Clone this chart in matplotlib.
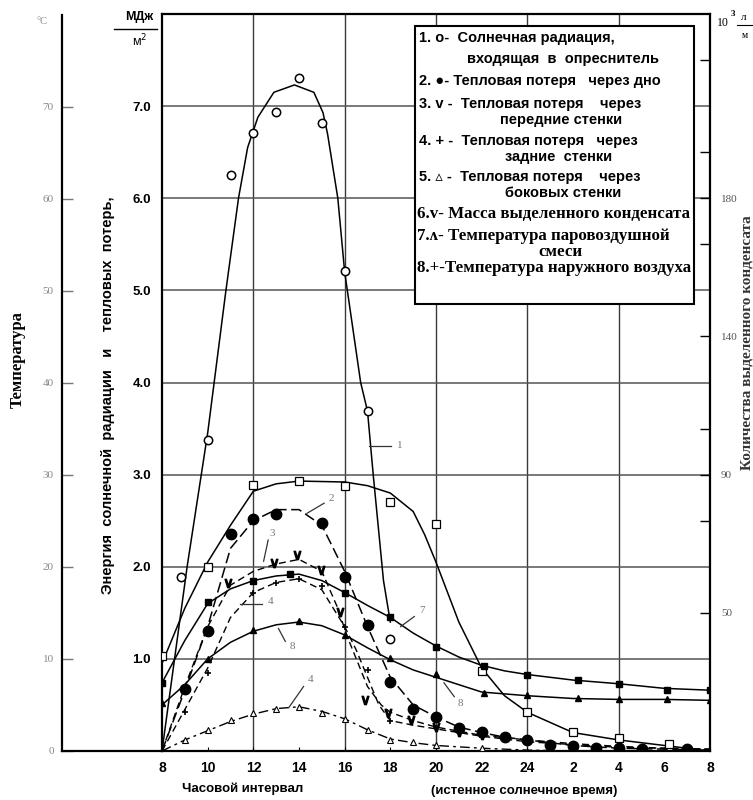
"""
Daily run of a solar still: solar energy, heat losses, condensate, temperatures.
Redrawn from a scanned figure.
"""

import matplotlib
matplotlib.use("Agg")
import matplotlib.pyplot as plt
from matplotlib.lines import Line2D
from matplotlib.patches import Rectangle

W, H = 753, 800

# hours are counted on from 8:00 (32 = 8:00 next morning)
x_ticks = [8, 10, 12, 14, 16, 18, 20, 22, 24, 26, 28, 30, 32]
x_tick_labels = ["8", "10", "12", "14", "16", "18", "20", "22", "24", "2", "4", "6", "8"]
grid_x = [12, 16, 20, 24, 28]
grid_y = [1, 2, 3, 4, 5, 6, 7]
e_ticks = [1, 2, 3, 4, 5, 6, 7]
e_tick_labels = ["1.0", "2.0", "3.0", "4.0", "5.0", "6.0", "7.0"]
t_ticks = [0, 10, 20, 30, 40, 50, 60, 70]
t_tick_labels = ["0", "10", "20", "30", "40", "50", "60", "70"]
r_ticks = [1.5, 2.5, 3.0, 3.5, 4.5, 5.5, 6.0, 6.5, 7.5]
r_tick_labels = ["50", "", "90", "", "140", "", "180", "", ""]

# 1 - solar radiation (open circles, solid)
c1_x = [8, 9.1, 10, 10.8, 11.35, 11.75, 12.2, 12.9, 13.8, 14.65, 15.05, 15.25, 15.7, 16.0, 16.7, 17.0, 17.25, 17.7, 18.0]
c1_y = [0, 2.0, 3.45, 5.0, 6.0, 6.55, 6.88, 7.15, 7.23, 7.15, 6.93, 6.7, 6.0, 5.2, 4.0, 3.69, 3.0, 1.85, 1.4]
c1_px = [8.85, 10, 11, 12, 13, 14, 15, 16, 17, 18]
c1_py = [1.89, 3.38, 6.25, 6.71, 6.94, 7.30, 6.82, 5.21, 3.69, 1.22]

# 2 - loss through the bottom (filled circles, dashed)
c2_x = [8, 9, 10, 11, 12, 13, 14, 15, 16, 17, 18, 19, 20, 21, 22, 23, 24, 26, 28, 30, 32]
c2_y = [0, 0.66, 1.35, 2.2, 2.5, 2.62, 2.62, 2.45, 1.95, 1.35, 0.8, 0.5, 0.37, 0.26, 0.2, 0.15, 0.12, 0.06, 0.03, 0.02, 0.01]
c2_px = [9, 10, 11, 12, 13, 15, 16, 17, 18, 19, 20, 21, 22, 23, 24, 25, 26, 27, 28, 29, 31]
c2_py = [0.67, 1.30, 2.36, 2.52, 2.57, 2.48, 1.89, 1.37, 0.75, 0.46, 0.37, 0.25, 0.21, 0.15, 0.12, 0.07, 0.05, 0.03, 0.03, 0.02, 0.02]

# 3 - loss through the front walls (v, dashed)
c3_x = [8, 9, 10, 11, 12, 13, 14, 15, 15.7, 16.1, 17, 17.6, 18, 19, 20, 22, 24, 26, 28, 30, 32]
c3_y = [0, 0.7, 1.35, 1.8, 1.95, 2.03, 2.08, 1.95, 1.55, 1.25, 0.7, 0.5, 0.42, 0.33, 0.26, 0.17, 0.12, 0.08, 0.05, 0.03, 0.02]
c3_px = [10.9, 12.9, 13.9, 14.95, 15.8, 16.9, 17.9, 18.9, 20, 21, 22]
c3_py = [1.82, 2.04, 2.13, 1.97, 1.51, 0.55, 0.41, 0.34, 0.26, 0.21, 0.17]

# 4 - loss through the back walls (+, dashed)
c4_x = [8, 9, 10, 11, 12, 13, 14, 15, 16, 16.5, 17, 17.5, 18, 19, 20, 22, 24, 28, 32]
c4_y = [0, 0.45, 0.9, 1.45, 1.72, 1.83, 1.87, 1.75, 1.35, 1.1, 0.8, 0.5, 0.33, 0.28, 0.24, 0.16, 0.1, 0.04, 0.02]
c4_px = [9, 10, 12, 13, 14, 15, 16, 17, 18, 20, 22, 24]
c4_py = [0.42, 0.85, 1.71, 1.82, 1.87, 1.79, 1.35, 0.88, 0.33, 0.25, 0.15, 0.1]

# 5 - loss through the side walls (open triangles, dashed)
c5_x = [8, 9, 10, 11, 12, 13, 14, 15, 16, 17, 18, 19, 20, 22, 24, 26]
c5_y = [0, 0.12, 0.22, 0.32, 0.4, 0.46, 0.48, 0.43, 0.35, 0.23, 0.13, 0.09, 0.06, 0.03, 0.01, 0.0]
c5_px = [9, 10, 11, 12, 13, 14, 15, 16, 17, 18, 19, 20, 22]
c5_py = [0.12, 0.23, 0.34, 0.41, 0.46, 0.48, 0.41, 0.35, 0.23, 0.12, 0.10, 0.07, 0.03]

# 6 - condensate mass (open squares, solid)
c6_x = [8, 9, 10, 11, 12, 13, 14, 16, 17, 18, 19, 19.5, 20, 21, 22, 23, 24, 26, 28, 30, 32]
c6_y = [0.95, 1.55, 2.05, 2.45, 2.82, 2.9, 2.93, 2.92, 2.88, 2.8, 2.6, 2.35, 2.05, 1.4, 0.9, 0.6, 0.42, 0.2, 0.12, 0.06, 0.0]
c6_px = [8, 10, 12, 14, 16, 18, 20, 22, 24, 26, 28, 30.2]
c6_py = [1.03, 2.0, 2.89, 2.93, 2.88, 2.70, 2.46, 0.87, 0.42, 0.21, 0.145, 0.08]

# 7 - vapour-air mixture temperature (filled squares, solid)
c7_x = [8, 9, 10, 11, 12, 13, 14, 15, 16, 17, 18, 19, 20, 21, 22, 23, 24, 26, 28, 30, 32]
c7_y = [0.74, 1.2, 1.6, 1.76, 1.85, 1.9, 1.92, 1.85, 1.72, 1.58, 1.45, 1.28, 1.14, 1.02, 0.93, 0.87, 0.83, 0.77, 0.73, 0.68, 0.66]
c7_px = [8, 10, 12, 13.6, 16, 18, 20, 22.1, 24, 26.2, 28, 30.1, 32]
c7_py = [0.74, 1.62, 1.84, 1.92, 1.71, 1.45, 1.13, 0.92, 0.83, 0.77, 0.73, 0.66, 0.66]

# 8 - outside air temperature (filled triangles, solid)
c8_x = [8, 9, 10, 11, 12, 13, 14, 15, 16, 17, 18, 19, 20, 21, 22, 23, 24, 26, 28, 30, 32]
c8_y = [0.5, 0.72, 1.0, 1.18, 1.3, 1.37, 1.4, 1.36, 1.26, 1.12, 0.99, 0.88, 0.8, 0.72, 0.64, 0.62, 0.6, 0.57, 0.56, 0.56, 0.55]
c8_px = [8, 10, 12, 14, 16, 18, 20, 22.1, 24, 26.2, 28, 30.1, 32]
c8_py = [0.52, 1.0, 1.31, 1.41, 1.26, 1.01, 0.84, 0.63, 0.61, 0.57, 0.56, 0.56, 0.55]

# curve numbers: text position and leader line
curve_labels = ["1", "2", "3", "4", "8", "4", "7", "8"]
label_xy = [(18.3, 3.32), (15.3, 2.74), (12.7, 2.36), (12.65, 1.62), (13.6, 1.13), (14.4, 0.78), (19.25, 1.52), (20.95, 0.52)]
leader_from = [(17.05, 3.31), (14.35, 2.58), (12.45, 2.06), (11.4, 1.6), (13.1, 1.33), (13.55, 0.47), (18.45, 1.35), (20.35, 0.74)]
leader_to = [(18.05, 3.31), (15.1, 2.69), (12.65, 2.29), (12.4, 1.6), (13.4, 1.19), (14.2, 0.7), (19.05, 1.46), (20.8, 0.59)]

legend_rows = [
    ("1. о-  Солнечная радиация,", "sans", 38, 419),
    ("входящая  в  опреснитель", "sans", 59, 467),
    ("2. ●- Тепловая потеря   через дно", "sans", 81, 419),
    ("3. v -  Тепловая потеря    через", "sans", 104, 419),
    ("передние стенки", "sans", 120, 500),
    ("4. + -  Тепловая потеря   через", "sans", 141, 419),
    ("задние  стенки", "sans", 157, 505),
    ("5. ▵ -  Тепловая потеря    через", "sans", 177, 419),
    ("боковых стенки", "sans", 193, 505),
    ("6.v- Масса выделенного конденсата", "serif", 214, 417),
    ("7.ʌ- Температура паровоздушной", "serif", 236, 417),
    ("смеси", "serif", 252, 538),
    ("8.+-Температура наружного воздуха", "serif", 268, 417),
]


def fx(px):
    return px / W


def fy(py):
    return 1 - py / H


fig = plt.figure(figsize=(W / 100, H / 100), dpi=100)
fig.patch.set_facecolor("white")

ax = fig.add_axes([fx(162), fy(751), (710 - 162) / W, (751 - 14) / H])
ax.set_xlim(8, 32)
ax.set_ylim(0, 8)
for s in ax.spines.values():
    s.set_linewidth(1.6)

for gx in grid_x:
    ax.axvline(gx, color="#3a3a3a", lw=1.0, zorder=1)
for gy in grid_y:
    ax.axhline(gy, color="#555555", lw=1.1, zorder=1)

ax.set_xticks(x_ticks)
ax.set_xticklabels(x_tick_labels, fontfamily="Liberation Sans", fontweight="bold", fontsize=10)
ax.tick_params(axis="x", direction="in", length=3, pad=7)
ax.set_yticks(e_ticks)
ax.set_yticklabels(e_tick_labels, fontfamily="Liberation Sans", fontweight="bold", fontsize=9.5)
ax.tick_params(axis="y", length=0, pad=8)

solid = dict(color="black", lw=1.1, zorder=3)
ax.plot(c1_x, c1_y, **solid)
ax.plot(c6_x, c6_y, **solid)
ax.plot(c7_x, c7_y, **solid)
ax.plot(c8_x, c8_y, **solid)
ax.plot(c2_x, c2_y, color="black", lw=1.1, ls=(0, (7, 3)), zorder=3)
ax.plot(c3_x, c3_y, color="black", lw=1.0, ls=(0, (5, 3)), zorder=3)
ax.plot(c4_x, c4_y, color="black", lw=1.0, ls=(0, (5, 3)), zorder=3)
ax.plot(c5_x, c5_y, color="black", lw=1.0, ls=(0, (7, 3, 2, 3)), zorder=3)

mk = dict(ls="none", color="black", zorder=4)
ax.plot(c1_px, c1_py, marker="o", ms=6, mfc="white", mew=1.1, **mk)
ax.plot(c2_px, c2_py, marker="o", ms=7.5, mfc="black", **mk)
ax.plot(c3_px, c3_py, marker="$\\vee$", ms=6, **mk)
ax.plot(c4_px, c4_py, marker="+", ms=5, mew=1.2, **mk)
ax.plot(c5_px, c5_py, marker="^", ms=4, mfc="white", mew=0.8, **mk)
ax.plot(c6_px, c6_py, marker="s", ms=5.5, mfc="white", mew=0.9, **mk)
ax.plot(c7_px, c7_py, marker="s", ms=5, mfc="black", **mk)
ax.plot(c8_px, c8_py, marker="^", ms=4.5, mfc="black", **mk)

for lab, (tx, ty), (ax0, ay0), (ax1, ay1) in zip(curve_labels, label_xy, leader_from, leader_to):
    ax.plot([ax0, ax1], [ay0, ay1], color="#333333", lw=0.9, zorder=3)
    ax.text(tx, ty, lab, fontsize=8, fontfamily="Liberation Serif", color="#777777",
            ha="left", va="center", zorder=5)

# right axis: condensate
ax_r = ax.twinx()
ax_r.set_ylim(0, 8)
ax_r.set_yticks(r_ticks)
ax_r.set_yticklabels(r_tick_labels, fontfamily="Liberation Serif", fontsize=8, color="#555555")
ax_r.tick_params(axis="y", direction="in", length=7, width=1.0, pad=8)
for s in ax_r.spines.values():
    s.set_visible(False)

# far left axis: temperature
ax_t = fig.add_axes([fx(62), fy(751), 0.0005, (751 - 15) / H])
ax_t.set_ylim(0, 80)
ax_t.set_xticks([])
ax_t.set_yticks(t_ticks)
ax_t.set_yticklabels(t_tick_labels, fontfamily="Liberation Serif", fontsize=8, color="#888888")
ax_t.tick_params(axis="y", direction="in", length=8, width=1.0, pad=6, colors="#777777", labelcolor="#888888")
for k in ["top", "right", "bottom"]:
    ax_t.spines[k].set_visible(False)
ax_t.spines["left"].set_linewidth(1.6)
ax_t.patch.set_visible(False)

fig.add_artist(Line2D([fx(62), fx(162)], [fy(751), fy(751)], transform=fig.transFigure, color="black", lw=1.6))

# legend box
fig.add_artist(Rectangle((fx(415), fy(304)), (694 - 415) / W, (304 - 26) / H,
                         transform=fig.transFigure, facecolor="white", edgecolor="black", lw=1.5, zorder=10))
for txt, fam, py, px in legend_rows:
    if fam == "sans":
        family, size = ["Liberation Sans", "DejaVu Sans"], 10.5
    else:
        family, size = ["Liberation Serif", "DejaVu Serif"], 12.2
    fig.text(fx(px), fy(py), txt, fontsize=size, fontfamily=family, fontweight="bold",
             ha="left", va="center", zorder=11)

# axis titles and units
fig.text(fx(18), fy(360), "Температура", rotation=90, fontsize=12, fontfamily="Liberation Serif",
         fontweight="bold", ha="center", va="center")
fig.text(fx(108), fy(395), "Энергия  солнечной  радиации   и    тепловых  потерь,", rotation=90,
         fontsize=10.5, fontfamily="Liberation Sans", fontweight="bold", ha="center", va="center")
fig.text(fx(747), fy(343), "Количества выделенного конденсата", rotation=90, fontsize=11,
         fontfamily="Liberation Serif", fontweight="bold", color="#333333", ha="center", va="center")
fig.text(fx(243), fy(789), "Часовой интервал", fontsize=9.5, fontfamily="Liberation Sans",
         fontweight="bold", ha="center", va="center")
fig.text(fx(524), fy(791), "(истенное солнечное время)", fontsize=9.5, fontfamily="Liberation Sans",
         fontweight="bold", ha="center", va="center")

fig.text(fx(42), fy(22), "°C", fontsize=7.5, fontfamily="Liberation Serif", color="#888888", ha="center", va="center")
fig.text(fx(139), fy(17), "МДж", fontsize=9, fontfamily="Liberation Sans", fontweight="bold", ha="center", va="center")
fig.add_artist(Line2D([fx(114), fx(157)], [fy(29), fy(29)], transform=fig.transFigure, color="black", lw=1.0))
fig.text(fx(140), fy(41), "м$^2$", fontsize=9, fontfamily="Liberation Sans", ha="center", va="center")

fig.text(fx(723), fy(23), "10", fontsize=8.5, fontfamily="Liberation Serif", ha="center", va="center")
fig.text(fx(733), fy(14), "3", fontsize=6.5, fontfamily="Liberation Serif", fontweight="bold", ha="center", va="center")
fig.text(fx(744), fy(17), "л", fontsize=8, fontfamily="Liberation Serif", ha="center", va="center")
fig.add_artist(Line2D([fx(737), fx(752)], [fy(25), fy(25)], transform=fig.transFigure, color="black", lw=0.8))
fig.text(fx(745), fy(36), "м", fontsize=7, fontfamily="Liberation Serif", ha="center", va="center")

fig.savefig("out.png", dpi=100)
